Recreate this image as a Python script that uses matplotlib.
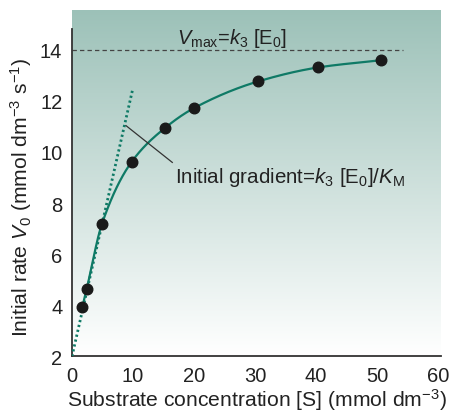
import matplotlib.pyplot as plt
from matplotlib.colors import LinearSegmentedColormap
import numpy as np

plt.rcParams['font.family'] = ['Liberation Sans', 'DejaVu Sans']
plt.rcParams['mathtext.fontset'] = 'custom'
plt.rcParams['mathtext.rm'] = 'Liberation Sans'
plt.rcParams['mathtext.it'] = 'Liberation Sans:italic'

# ─── Data ───
substrate = [1.7, 2.4, 4.9, 9.8, 15.25, 19.95, 30.5, 40.4, 50.6]
rate = [3.94, 4.63, 7.18, 9.62, 10.94, 11.71, 12.76, 13.31, 13.59]
vmax = 14.0
tangent_s = [0.0, 9.95]
tangent_v = [2.0, 12.46]
x_ticks = [0, 10, 20, 30, 40, 50, 60]
y_ticks = [2, 4, 6, 8, 10, 12, 14]

teal = '#0f7a66'
dark = '#222222'


def pchip(x, y, xs):
    # monotone cubic through the measured points, for a smooth line
    x = np.asarray(x, float)
    y = np.asarray(y, float)
    h = np.diff(x)
    d = np.diff(y) / h
    m = np.zeros_like(y)
    for k in range(1, len(x) - 1):
        if d[k - 1] * d[k] > 0:
            w1 = 2 * h[k] + h[k - 1]
            w2 = h[k] + 2 * h[k - 1]
            m[k] = (w1 + w2) / (w1 / d[k - 1] + w2 / d[k])
    m[0] = d[0]
    m[-1] = d[-1]
    idx = np.clip(np.searchsorted(x, xs) - 1, 0, len(x) - 2)
    t = (xs - x[idx]) / h[idx]
    h00 = 2 * t**3 - 3 * t**2 + 1
    h10 = t**3 - 2 * t**2 + t
    h01 = -2 * t**3 + 3 * t**2
    h11 = t**3 - t**2
    return (h00 * y[idx] + h10 * h[idx] * m[idx]
            + h01 * y[idx + 1] + h11 * h[idx] * m[idx + 1])


fig = plt.figure(figsize=(4.53, 4.14), dpi=100)
ax = fig.add_axes([0.159, 0.137, 0.8145, 0.836])
xlim = (0, 60.5)
ylim = (2, 15.55)
ax.set_xlim(*xlim)
ax.set_ylim(*ylim)

# ─── Gradient background ───
cmap = LinearSegmentedColormap.from_list('bg', ['#ffffff', '#9cc1b8'])
grad = np.linspace(0, 1, 256).reshape(-1, 1)
ax.imshow(grad, cmap=cmap, origin='lower', aspect='auto',
          extent=(xlim[0], xlim[1], ylim[0], ylim[1]), zorder=0)

# ─── Vmax dashed line ───
ax.plot([0, 54.2], [vmax, vmax], color='#444444', lw=0.9,
        dashes=(3.5, 2.5), zorder=2)
ax.text(17.2, 14.26, r'$V_{\mathrm{max}}$=$k_3$ [E$_0$]', fontsize=14.5,
        ha='left', va='baseline', color=dark, zorder=5)

# ─── Initial tangent (dotted) ───
ax.plot(tangent_s, tangent_v, color=teal, lw=2.0, dashes=(0.8, 1.0),
        dash_capstyle='butt', zorder=3)

# ─── Smooth curve + points ───
xs = np.linspace(substrate[0], substrate[-1], 400)
ax.plot(xs, pchip(substrate, rate, xs), color=teal, lw=1.6, zorder=3)
ax.plot(substrate, rate, 'o', color='#1a1a1a', markersize=7.6, zorder=4)

# ─── Annotation ───
ax.plot([8.85, 16.44], [11.03, 9.59], color='#333333', lw=0.9, zorder=4)
ax.text(16.9, 8.83, r'Initial gradient=$k_3$ [E$_0$]/$K_{\mathrm{M}}$',
        fontsize=14.8, ha='left', va='baseline', color=dark, zorder=5)

# ─── Axes styling ───
for side in ['top', 'right']:
    ax.spines[side].set_visible(False)
ax.spines['left'].set_bounds(2, 14.8)
for side in ['left', 'bottom']:
    ax.spines[side].set_linewidth(1.3)
    ax.spines[side].set_color('#333333')
ax.set_xticks(x_ticks)
ax.set_yticks(y_ticks)
ax.tick_params(length=0, labelsize=14.5, colors=dark, pad=7)
ax.tick_params(axis='y', pad=7)
ax.set_xlabel(r'Substrate concentration [S] (mmol dm$^{-3}$)',
              fontsize=15.2, color=dark, labelpad=1)
ax.set_ylabel(r'Initial rate $V_0$ (mmol dm$^{-3}$ s$^{-1}$)',
              fontsize=15.2, color=dark)
ax.yaxis.set_label_coords(-0.103, 0.463)

fig.savefig('out.png', dpi=100, facecolor='white')
